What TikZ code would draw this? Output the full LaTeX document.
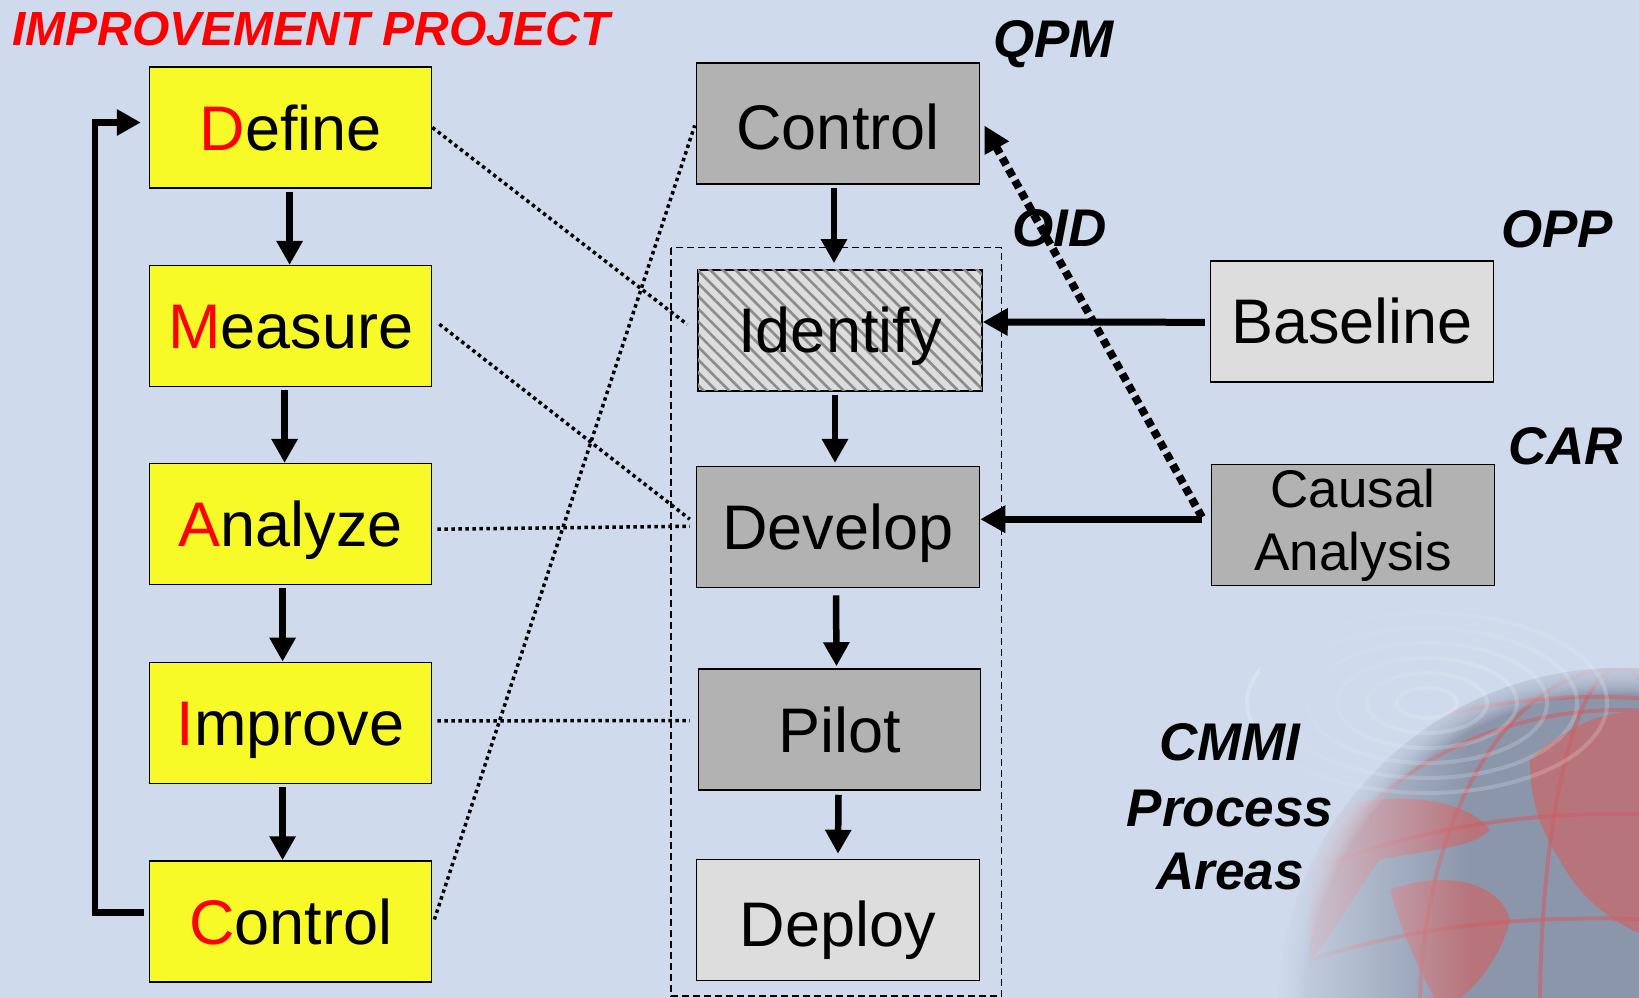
\documentclass[tikz,border=0pt]{standalone}
\usepackage{fontspec}
\setmainfont{Liberation Sans}
\usetikzlibrary{arrows.meta,patterns.meta,fadings,calc}
\definecolor{bgblue}{RGB}{207,219,236}
\definecolor{boxyellow}{RGB}{248,250,40}
\definecolor{midgray}{RGB}{178,178,178}
\definecolor{palegray}{RGB}{221,221,221}
\definecolor{hatchgray}{RGB}{140,140,140}
\definecolor{oceancol}{RGB}{118,128,150}
\definecolor{landcol}{RGB}{196,108,112}
\tikzfading[name=leftfade, left color=transparent!0, right color=transparent!100]
\tikzfading[name=topfade, top color=transparent!0, bottom color=transparent!100]
\tikzset{
  box/.style={draw=black, line width=1.5pt, minimum width=282pt, minimum height=121pt,
    inner sep=0pt, font=\fontsize{63}{63}\selectfont, text height=45pt, text depth=0pt},
  ybox/.style={box, fill=boxyellow},
  gbox/.style={box, fill=midgray},
  lbox/.style={box, fill=palegray},
  lab/.style={font=\fontsize{53}{53}\selectfont\bfseries\itshape, inner sep=0pt, anchor=base west},
  cmmilab/.style={font=\fontsize{53}{53}\selectfont\bfseries\itshape, inner sep=0pt, anchor=base},
  flow/.style={line width=6.5pt, -{Triangle[length=24pt,width=25pt]}},
  dots/.style={line width=3.5pt, dash pattern=on 3.5pt off 3.5pt},
  bigdots/.style={line width=8pt, dash pattern=on 8pt off 5pt, -{Triangle[length=26pt,width=26pt]}},
}
\newcommand{\rl}[1]{\textcolor{red}{#1}}
\begin{document}
\begin{tikzpicture}[x=1pt,y=-1pt]
\useasboundingbox (0,0) rectangle (1639,998);
\fill[bgblue] (0,0) rectangle (1639,998);
% background globe
\begin{scope}
  \clip (0,0) rectangle (1639,998);
  \begin{scope}
    \clip (1620,1010) circle (342);
    \fill[oceancol, opacity=0.75] (1620,1010) circle (342);
    \begin{scope}[landcol, opacity=0.8]
      \fill (1310,820) .. controls (1360,790) and (1460,790) .. (1490,830)
            .. controls (1470,850) and (1420,850) .. (1380,860)
            .. controls (1350,900) and (1330,940) .. (1310,960) -- cycle;
      \fill (1390,890) .. controls (1440,870) and (1500,880) .. (1510,920)
            .. controls (1500,960) and (1470,998) .. (1440,1010)
            .. controls (1420,970) and (1400,930) .. (1390,890) -- cycle;
      \fill (1530,760) .. controls (1570,720) and (1630,700) .. (1660,720)
            -- (1660,940) .. controls (1620,930) and (1580,900) .. (1560,860)
            .. controls (1540,830) and (1530,800) .. (1530,760) -- cycle;
    \end{scope}
    \begin{scope}[draw=landcol!90!red, line width=4pt, opacity=0.6]
      \draw (1620,1010) ellipse (342 and 300);
      \draw (1620,1010) ellipse (200 and 342);
      \draw (1620,1010) ellipse (80 and 342);
      \draw (1280,780) .. controls (1420,700) and (1560,690) .. (1660,700);
      \draw (1290,880) .. controls (1420,820) and (1560,810) .. (1660,815);
      \draw (1310,960) .. controls (1430,920) and (1560,915) .. (1660,920);
    \end{scope}
  \end{scope}
  \foreach \w in {5,10,15,20,25,30,35,40,45,50}
    \draw[bgblue, opacity=0.13, line width=\w pt] (1620,1010) circle (342);
  \begin{scope}[white, line width=4pt, opacity=0.18]
    \foreach \r in {30,60,90,120,150,180}
      \draw (1427,703) ellipse ({\r} and {0.5*\r});
  \end{scope}
  \fill[bgblue, path fading=leftfade] (1260,600) rectangle (1470,998);
  \fill[bgblue, path fading=topfade] (1270,560) rectangle (1639,700);
\end{scope}

\node[anchor=base west, inner sep=0pt, text=red, font=\fontsize{48}{48}\selectfont\bfseries\itshape] (title) at (12,46) {IMPROVEMENT PROJECT};

% left column
\node[ybox] (define)  at (290.6,127.5) {\rl{D}efine};
\node[ybox] (measure) at (290.6,326.2) {\rl{M}easure};
\node[ybox] (analyze) at (290.6,524.2) {\rl{A}nalyze};
\node[ybox] (improve) at (290.6,722.9) {\rl{I}mprove};
\node[ybox] (ctrlL)   at (290.6,921.5) {\rl{C}ontrol};

% dashed container
\draw[line width=1.5pt, dash pattern=on 7pt off 4pt] (671,247.7) rectangle (1001.4,996);

% middle column
\node[gbox, minimum width=283pt, text height=53pt] (ctrlM) at (838,123.4) {Control};
\node[box, minimum width=284pt, fill=palegray,
      postaction={pattern={Lines[angle=-45,distance=9pt,line width=2.6pt]}, pattern color=hatchgray}]
      (identify) at (840,330.4) {Identify};
\node[gbox, minimum width=283pt] (develop) at (838,527.2) {Develop};
\node[gbox] (pilot) at (839.5,729.5) {Pilot};
\node[lbox, minimum width=283pt, text height=53pt] (deploy) at (838,920) {Deploy};

% right column
\node[lbox, minimum width=283pt] (baseline) at (1352,321.3) {Baseline};
\node[gbox, minimum width=283pt, font=\fontsize{53}{63}\selectfont, align=center, text height=, text depth=] (causal) at (1353.2,525.2) {Causal\\Analysis};

% labels
\node[lab] (qpm) at (993,58) {QPM};
\node[lab] (oid) at (1012,246) {OID};
\node[lab] (opp) at (1501,247) {OPP};
\node[lab] (car) at (1508,464) {CAR};
\node[cmmilab] (cm1) at (1230,760) {CMMI};
\node[cmmilab] (cm2) at (1230,826) {Process};
\node[cmmilab] (cm3) at (1230,889) {Areas};

% dotted mapping lines
\draw[dots] (define.east) -- ($(identify.west)+(-10,-6)$);
\draw[dots] ($(measure.east)+(7,-2)$) -- ($(develop.west)+(-6,-8)$);
\draw[dots] ($(analyze.east)+(5,5)$) -- ($(develop.west)+(-6,-1)$);
\draw[dots] ($(improve.east)+(5,-2)$) -- ($(pilot.west)+(-8,-9)$);
\draw[dots] ($(ctrlL.east)+(2,-2)$) -- ($(ctrlM.west)+(-1,2)$);

% left flow
\draw[flow] ($(define.south)+(-1,3)$) -- ($(measure.north)+(-1,0)$);
\draw[flow] ($(measure.south)+(-6,3)$) -- ($(analyze.north)+(-6,0)$);
\draw[flow] ($(analyze.south)+(-8,3)$) -- ($(improve.north)+(-8,0)$);
\draw[flow] ($(improve.south)+(-8,3)$) -- ($(ctrlL.north)+(-8,0)$);
\draw[flow] ($(ctrlL.west)+(-5,-9)$) -| ($(define.west)+(-54,-5)$) -- ($(define.west)+(-8,-5)$);

% middle flow
\draw[flow] ($(ctrlM.south)+(-4,3)$) -- ($(identify.north)+(-6,-6)$);
\draw[flow] ($(identify.south)+(-5,3)$) -- ($(develop.north)+(-3,-3)$);
\draw[flow] ($(develop.south)+(-2,7)$) -- ($(pilot.north)+(-3,-2)$);
\draw[flow] ($(pilot.south)+(-1,4)$) -- ($(deploy.north)+(0,-5)$);

% right flow
\draw[line width=7pt, -{Triangle[length=25pt,width=26pt]}] ($(baseline.west)+(-5,1)$) -- ($(identify.east)+(0,-8.4)$);
\draw[line width=7pt, -{Triangle[length=25pt,width=26pt]}] ($(causal.west)+(-9,-6)$) -- ($(develop.east)+(0,-8)$);
\draw[bigdots] ($(causal.west)+(-9,-8)$) -- ($(ctrlM.east)+(4,2)$);
\end{tikzpicture}
\end{document}
